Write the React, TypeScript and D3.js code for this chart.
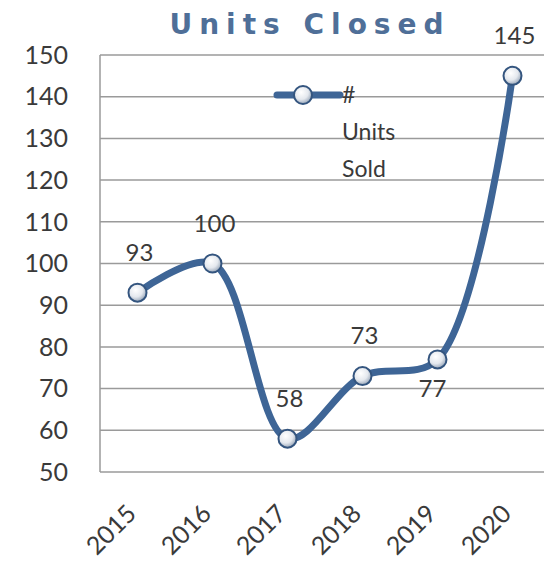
import { useEffect, useRef } from "react"
import * as d3 from "d3"

const years = ["2015", "2016", "2017", "2018", "2019", "2020"]
const unitsSold = [93, 100, 58, 73, 77, 145]
const yTicks = [50, 60, 70, 80, 90, 100, 110, 120, 130, 140, 150]
const labelSide = ["top", "top", "top", "top", "bottom", "top"]

const W = 544
const H = 579

export default function App() {
  const svgRef = useRef<SVGSVGElement>(null)

  useEffect(() => {
    const svg = d3.select(svgRef.current)
    svg.selectAll("*").remove()

    const left = 100
    const right = 550
    const top = 55
    const bottom = 472
    const font = "Lato, 'DejaVu Sans', sans-serif"
    const textColor = "#3a3a3a"
    const lineColor = "#3e6596"

    const x = d3.scaleBand<string>().domain(years).range([left, right])
    const y = d3.scaleLinear().domain([50, 150]).range([bottom, top])
    const cx = (i: number) => x(years[i])! + x.bandwidth() / 2

    // marker gradient
    const defs = svg.append("defs")
    const grad = defs
      .append("radialGradient")
      .attr("id", "mk")
      .attr("cx", "40%")
      .attr("cy", "35%")
      .attr("r", "65%")
    grad.append("stop").attr("offset", "0%").attr("stop-color", "#ffffff")
    grad.append("stop").attr("offset", "60%").attr("stop-color", "#e4e8ee")
    grad.append("stop").attr("offset", "100%").attr("stop-color", "#9aa8ba")

    // title
    svg
      .append("text")
      .attr("x", 310)
      .attr("y", 34)
      .attr("text-anchor", "middle")
      .attr("font-family", "'DejaVu Sans', sans-serif")
      .attr("font-size", 28)
      .attr("font-weight", "bold")
      .attr("letter-spacing", 7)
      .attr("fill", "#4f6f98")
      .text("Units Closed")

    // gridlines
    svg
      .append("g")
      .selectAll("line")
      .data(yTicks)
      .join("line")
      .attr("x1", left)
      .attr("x2", right)
      .attr("y1", (d) => y(d))
      .attr("y2", (d) => y(d))
      .attr("stroke", "#9a9a9a")
      .attr("stroke-width", 1.5)

    svg
      .append("line")
      .attr("x1", left)
      .attr("x2", left)
      .attr("y1", top)
      .attr("y2", bottom)
      .attr("stroke", "#9a9a9a")
      .attr("stroke-width", 1.5)

    // y tick labels
    svg
      .append("g")
      .selectAll("text")
      .data(yTicks)
      .join("text")
      .attr("x", 68)
      .attr("y", (d) => y(d))
      .attr("dy", "0.35em")
      .attr("text-anchor", "end")
      .attr("font-family", font)
      .attr("font-size", 25)
      .attr("fill", textColor)
      .text((d) => d)

    // x tick labels
    svg
      .append("g")
      .selectAll("text")
      .data(years)
      .join("text")
      .attr("transform", (_, i) => `translate(${cx(i) - 6},${bottom + 37}) rotate(-45)`)
      .attr("text-anchor", "end")
      .attr("dy", "0.35em")
      .attr("font-family", font)
      .attr("font-size", 25)
      .attr("fill", textColor)
      .text((d) => d)

    // line
    const line = d3
      .line<number>()
      .x((_, i) => cx(i))
      .y((d) => y(d))
      .curve(d3.curveCatmullRom.alpha(0.5))

    svg
      .append("path")
      .datum(unitsSold)
      .attr("d", line)
      .attr("fill", "none")
      .attr("stroke", lineColor)
      .attr("stroke-width", 7)
      .attr("stroke-linecap", "round")

    // markers
    svg
      .append("g")
      .selectAll("circle")
      .data(unitsSold)
      .join("circle")
      .attr("cx", (_, i) => cx(i))
      .attr("cy", (d) => y(d))
      .attr("r", 9)
      .attr("fill", "url(#mk)")
      .attr("stroke", "#34557f")
      .attr("stroke-width", 2)

    // data labels
    svg
      .append("g")
      .selectAll("text")
      .data(unitsSold)
      .join("text")
      .attr("x", (_, i) => cx(i) + (labelSide[i] === "bottom" ? -5 : 2))
      .attr("y", (d, i) => y(d) + (labelSide[i] === "bottom" ? 29 : -40))
      .attr("dy", "0.35em")
      .attr("text-anchor", "middle")
      .attr("font-family", font)
      .attr("font-size", 24)
      .attr("fill", textColor)
      .text((d) => d)

    // legend
    const lg = svg.append("g")
    lg.append("line")
      .attr("x1", 277)
      .attr("x2", 340)
      .attr("y1", 95)
      .attr("y2", 95)
      .attr("stroke", lineColor)
      .attr("stroke-width", 7)
      .attr("stroke-linecap", "round")
    lg.append("circle")
      .attr("cx", 303)
      .attr("cy", 95)
      .attr("r", 9)
      .attr("fill", "url(#mk)")
      .attr("stroke", "#34557f")
      .attr("stroke-width", 2)
    const legendLines = ["#", "Units", "Sold"]
    lg.selectAll("text")
      .data(legendLines)
      .join("text")
      .attr("x", 342)
      .attr("y", (_, i) => 95 + i * 37)
      .attr("dy", "0.35em")
      .attr("font-family", font)
      .attr("font-size", 23)
      .attr("fill", textColor)
      .text((d) => d)
  }, [])

  return <svg ref={svgRef} width={W} height={H} style={{ position: "absolute", left: 0, top: 0, background: "#fff" }} />
}
